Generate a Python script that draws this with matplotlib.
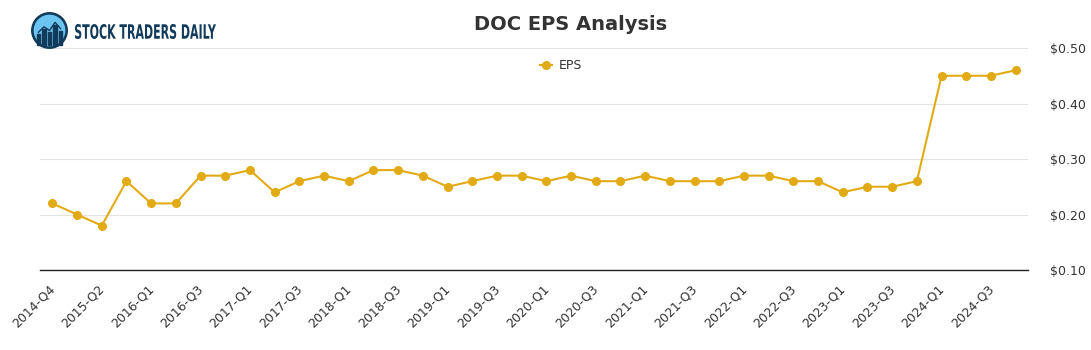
import matplotlib
matplotlib.use("Agg")
import matplotlib.pyplot as plt
from matplotlib.patches import Circle, Rectangle, PathPatch
from matplotlib.textpath import TextPath
from matplotlib.font_manager import FontProperties
from matplotlib.transforms import Affine2D, ScaledTranslation
from matplotlib.ticker import FuncFormatter

quarters = [
    "2014-Q4", "2015-Q1", "2015-Q2", "2015-Q3", "2016-Q1", "2016-Q2",
    "2016-Q3", "2016-Q4", "2017-Q1", "2017-Q2", "2017-Q3", "2017-Q4",
    "2018-Q1", "2018-Q2", "2018-Q3", "2018-Q4", "2019-Q1", "2019-Q2",
    "2019-Q3", "2019-Q4", "2020-Q1", "2020-Q2", "2020-Q3", "2020-Q4",
    "2021-Q1", "2021-Q2", "2021-Q3", "2021-Q4", "2022-Q1", "2022-Q2",
    "2022-Q3", "2022-Q4", "2023-Q1", "2023-Q2", "2023-Q3", "2023-Q4",
    "2024-Q1", "2024-Q2", "2024-Q3", "2024-Q4",
]
eps = [
    0.22, 0.20, 0.18, 0.26, 0.22, 0.22, 0.27, 0.27, 0.28, 0.24,
    0.26, 0.27, 0.26, 0.28, 0.28, 0.27, 0.25, 0.26, 0.27, 0.27,
    0.26, 0.27, 0.26, 0.26, 0.27, 0.26, 0.26, 0.26, 0.27, 0.27,
    0.26, 0.26, 0.24, 0.25, 0.25, 0.26, 0.45, 0.45, 0.45, 0.46,
]
y_ticks = [0.10, 0.20, 0.30, 0.40, 0.50]

line_color = "#e2aa14"
text_color = "#333333"
logo_color = "#123a5a"

fig = plt.figure(figsize=(10.91, 3.5), dpi=100)
ax = fig.add_axes([40 / 1091, 1 - 270 / 350, 988 / 1091, 222 / 350])

x = list(range(len(quarters)))
ax.plot(x, eps, color=line_color, lw=1.5, marker="o", ms=5.5, label="EPS", zorder=3)

ax.set_xlim(-0.5, len(quarters) - 0.5)
ax.set_ylim(0.10, 0.50)
ax.set_yticks(y_ticks)
ax.yaxis.tick_right()
ax.yaxis.set_major_formatter(FuncFormatter(lambda v, p: f"${v:.2f}"))
ax.set_xticks(x[::2])
ax.set_xticklabels(quarters[::2], rotation=45, ha="right", rotation_mode="anchor")
ax.tick_params(axis="both", length=0, labelsize=9, colors=text_color)
ax.tick_params(axis="y", pad=16)
ax.tick_params(axis="x", pad=9)
shift = ScaledTranslation(-4 / 100, 0, fig.dpi_scale_trans)
for lbl in ax.get_xticklabels():
    lbl.set_transform(lbl.get_transform() + shift)
ax.grid(axis="y", color="#e3e3e3", lw=0.8)
ax.set_axisbelow(True)
for s in ["top", "right", "left"]:
    ax.spines[s].set_visible(False)
ax.spines["bottom"].set_color("#222222")
ax.spines["bottom"].set_linewidth(1.0)
ax.spines["bottom"].set_zorder(4)

leg = ax.legend(loc="upper center", bbox_to_anchor=(0.527, 1.0), frameon=False,
                fontsize=9, handlelength=1.0, handletextpad=0.5)
for t in leg.get_texts():
    t.set_color(text_color)

fig.text(571 / 1091, 1 - 24 / 350, "DOC EPS Analysis", ha="center", va="center",
         fontsize=14, fontweight="bold", color=text_color)

# logo
logo = fig.add_axes([31 / 1091, 1 - 49 / 350, 37 / 1091, 37 / 350])
logo.set_xlim(0, 1)
logo.set_ylim(0, 1)
logo.axis("off")
logo.add_patch(Circle((0.5, 0.5), 0.48, color=logo_color))
logo.add_patch(Circle((0.5, 0.5), 0.41, color="#6cc4f0"))
for bx, bh in [(0.2, 0.3), (0.35, 0.45), (0.5, 0.35), (0.65, 0.55), (0.8, 0.4)]:
    logo.add_patch(Rectangle((bx - 0.05, 0.1), 0.1, bh, color=logo_color))
logo.plot([0.2, 0.35, 0.5, 0.65, 0.8], [0.45, 0.6, 0.5, 0.72, 0.55], color=logo_color, lw=1)

# condensed brand text, scaled to fit pixel box
tp = TextPath((0, 0), "STOCK TRADERS DAILY", size=10,
              prop=FontProperties(family="DejaVu Sans", weight="semibold"))
bb = tp.get_extents()
txt_ax = fig.add_axes([75 / 1091, 1 - 39 / 350, 141 / 1091, 16 / 350])
txt_ax.set_xlim(0, 141)
txt_ax.set_ylim(0, 16)
txt_ax.axis("off")
sx = 141 / bb.width
sy = 15 / bb.height
tr = Affine2D().translate(-bb.x0, -bb.y0).scale(sx, sy)
txt_ax.add_patch(PathPatch(tr.transform_path(tp), color=logo_color, lw=0))

fig.savefig("out.png", dpi=100)
